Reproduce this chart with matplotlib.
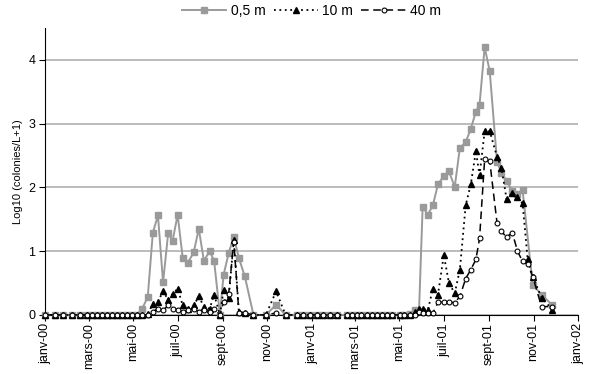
import matplotlib
matplotlib.use("Agg")
import matplotlib.pyplot as plt
import numpy as np
import pandas as pd

plt.rcParams['font.family'] = ['Liberation Sans', 'DejaVu Sans']

# sampling dates (day offsets from 2000-01-01)
day_offsets = [0, 14, 25, 37, 48, 58, 64, 71, 78, 85, 92, 99, 106, 112, 119, 126,
               133, 141, 148, 155, 162, 169, 175, 182, 189, 196, 204, 211, 218, 226,
               232, 240, 245, 252, 259, 266, 274, 286, 303, 317, 330, 345,
               354, 363, 373, 381, 391, 400, 414, 421, 428, 434, 441, 448, 455, 462,
               469, 476, 487, 493, 500, 507, 513,
               518, 525, 532, 539, 547, 554, 562, 569, 577, 584, 591, 596, 603, 610,
               620, 626, 633, 641, 648, 655, 662, 669, 681, 696]

nan = float('nan')
depth_05 = [0, 0, 0, 0, 0, 0, 0, 0, 0, 0, 0, 0, 0, 0, 0, 0,
            0.09, 0.28, 1.29, 1.56, 0.51, 1.28, 1.16, 1.57, 0.89, 0.82, 0.98, 1.35, 0.85, 1.0,
            0.85, 0, 0.63, 0.97, 1.23, 0.89, 0.61, 0, 0, 0.16, 0, 0,
            0, 0, 0, 0, 0, 0, 0, 0, 0, 0, 0, 0, 0, 0,
            0, 0, 0, 0, 0.02, 0.08, 0.06,
            1.7, 1.57, 1.72, 2.05, 2.18, 2.25, 2.01, 2.62, 2.71, 2.92, 3.19, 3.30, 4.2, 3.82,
            2.4, 2.23, 2.1, 1.94, 1.9, 1.96, nan, 0.47, 0.32, 0.15]

depth_10 = [0, 0, 0, 0, 0, 0, 0, 0, 0, 0, 0, 0, 0, 0, 0, 0,
            0, 0.02, 0.17, 0.21, 0.37, 0.24, 0.33, 0.41, 0.15, 0.1, 0.15, 0.29, 0.13, 0.1,
            0.32, 0, 0.39, 0.26, 1.18, 0.05, 0.03, 0, 0, 0.37, 0, 0,
            0, 0, 0, 0, 0, 0, 0, 0, 0, 0, 0, 0, 0, 0,
            0, 0, 0, 0, 0, 0.05, 0.1,
            0.1, 0.07, 0.41, 0.32, 0.94, 0.5, 0.34, 0.71, 1.72, 2.05, 2.57, 2.19, 2.88, 2.88,
            2.48, 2.31, 1.82, 1.91, 1.85, 1.75, 0.87, 0.6, 0.27, 0.08]

depth_40 = [0, 0, 0, 0, 0, 0, 0, 0, 0, 0, 0, 0, 0, 0, 0, 0,
            0, 0, 0.05, 0.1, 0.07, 0.15, 0.1, 0.08, 0.05, 0.07, 0.1, 0.05, 0.08, 0.05,
            0.1, 0, 0.2, 0.33, 1.15, 0.03, 0.03, 0, 0, 0.03, 0, 0,
            0, 0, 0, 0, 0, 0, 0, 0, 0, 0, 0, 0, 0, 0,
            0, 0, 0, 0, 0, 0, 0.05,
            0.03, 0.03, 0.03, 0.2, 0.2, 0.2, 0.19, 0.29, 0.57, 0.71, 0.87, 1.2, 2.44, 2.41,
            1.44, 1.31, 1.22, 1.29, 1.0, 0.84, 0.8, 0.6, 0.13, 0.13]

tick_labels = ['janv-00', 'mars-00', 'mai-00', 'juil-00', 'sept-00', 'nov-00',
               'janv-01', 'mars-01', 'mai-01', 'juil-01', 'sept-01', 'nov-01', 'janv-02']
tick_dates = pd.date_range('2000-01-01', '2002-01-01', freq='2MS')

dates = pd.Timestamp('2000-01-01') + pd.to_timedelta(day_offsets, unit='D')

fig = plt.figure(figsize=(5.91, 3.74), dpi=100)
ax = fig.add_axes([0.076, 0.158, 0.902, 0.767])


def draw(vals, **kw):
    v = np.asarray(vals, dtype=float)
    m = ~np.isnan(v)
    ax.plot(dates[m], v[m], clip_on=False, **kw)


draw(depth_05, color='#9a9a9a', lw=1.4, ls='-', marker='s', ms=4,
     mfc='#9a9a9a', mec='#9a9a9a', label='0,5 m', zorder=3)
draw(depth_10, color='black', lw=1.3, ls=(0, (1, 2)), marker='^', ms=4.5,
     mfc='black', mec='black', label='10 m', zorder=4)
draw(depth_40, color='black', lw=1.1, ls=(0, (5, 3)), marker='o', ms=3.5,
     mfc='white', mec='black', mew=0.8, label='40 m', zorder=5)

ax.set_xlim(pd.Timestamp('2000-01-01'), pd.Timestamp('2002-01-01'))
ax.set_ylim(0, 4.5)
ax.set_xticks(tick_dates)
ax.set_xticklabels(tick_labels, rotation=90, fontsize=9)
ax.set_yticks([0, 1, 2, 3, 4])
ax.set_yticklabels(['0', '1', '2', '3', '4'], fontsize=9)
ax.yaxis.grid(True, color='#b0b0b0', lw=1.2)
ax.set_axisbelow(True)
for s in ['top', 'right']:
    ax.spines[s].set_visible(False)
ax.spines['left'].set_linewidth(0.8)
ax.spines['bottom'].set_linewidth(0.8)
ax.tick_params(axis='x', direction='out', length=4, width=0.8, pad=2)
ax.tick_params(axis='y', direction='out', length=4, width=0.8, pad=3)
ax.set_ylabel('Log10 (colonies/L+1)', fontsize=8)

ax.legend(loc='lower center', bbox_to_anchor=(0.5, 1.0), ncol=3, frameon=False,
          fontsize=10, handlelength=3.2, columnspacing=0.6, handletextpad=0.3,
          borderaxespad=0.3)

fig.savefig('out.png', dpi=100)
